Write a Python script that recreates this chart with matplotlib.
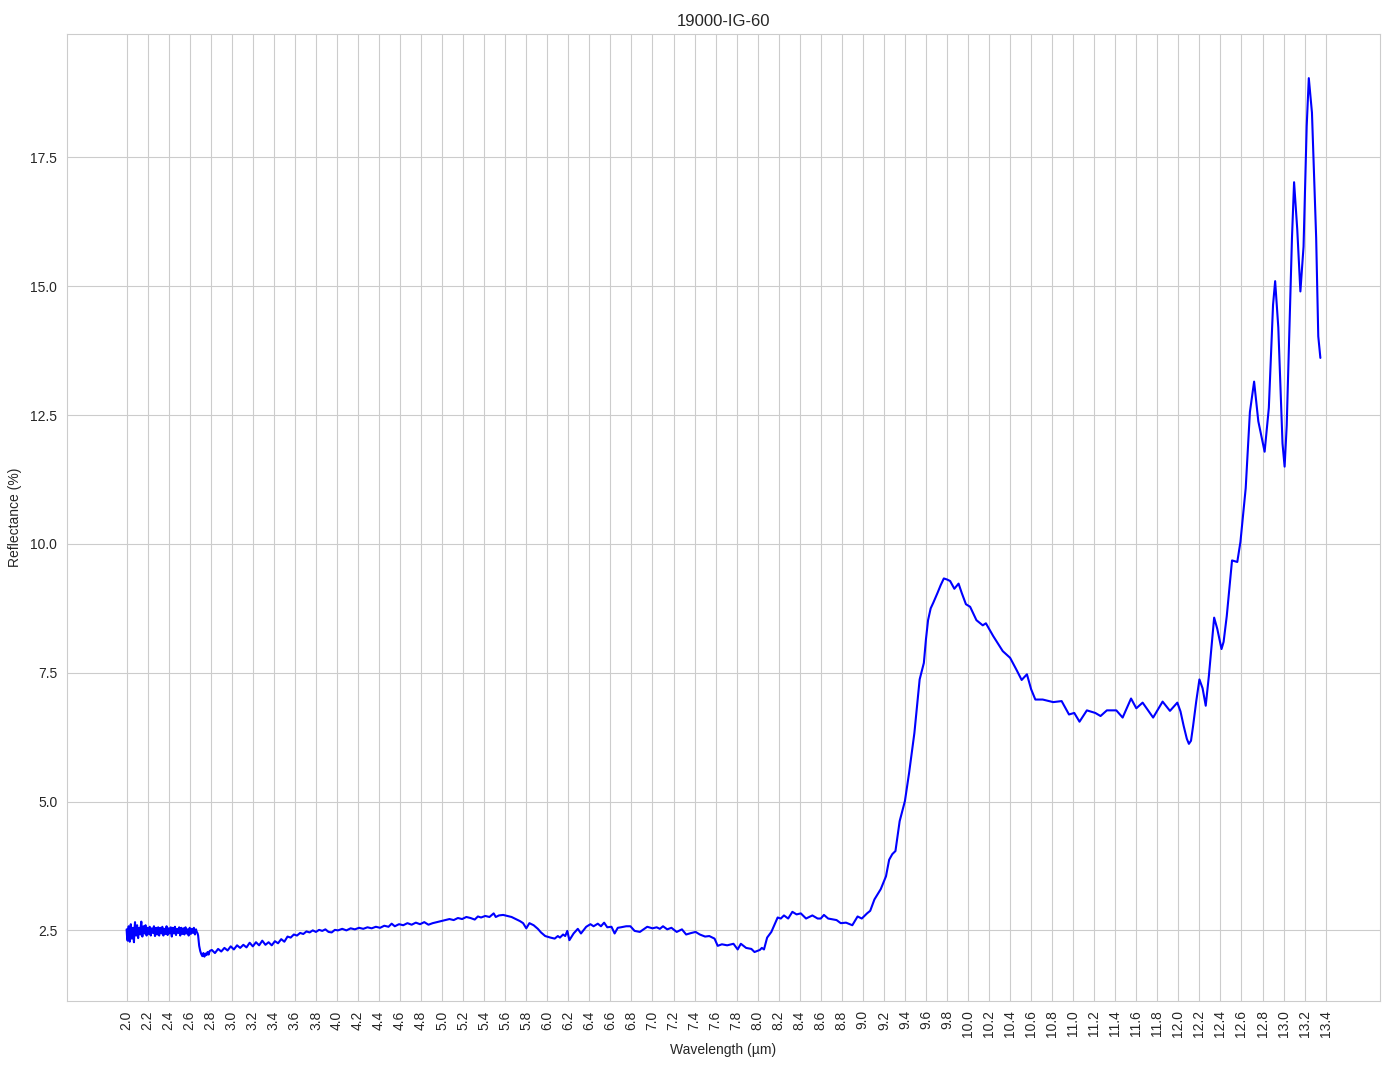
import numpy as np
import matplotlib.pyplot as plt
import seaborn as sns

# Dane (widmo odbicia)
# odcinek 1: 2.0 - 2.68 um (zaszumiony), krok pomiaru 0.005 um
wl_1 = np.round(np.arange(2.0, 2.6801, 0.005), 3).tolist()
refl_1 = [2.52, 2.36, 2.30, 2.49, 2.58, 2.40, 2.28, 2.47, 2.62, 2.44,
          2.34, 2.51, 2.55, 2.38, 2.27, 2.52, 2.66, 2.45, 2.40, 2.56,
          2.60, 2.43, 2.35, 2.50, 2.55, 2.46, 2.42, 2.58, 2.67, 2.47,
          2.38, 2.52, 2.58, 2.45, 2.44, 2.56, 2.60, 2.47, 2.40, 2.53,
          2.55, 2.46, 2.43, 2.52, 2.57, 2.44, 2.40, 2.50, 2.54, 2.47,
          2.45, 2.53, 2.58, 2.46, 2.39, 2.48, 2.55, 2.47, 2.42, 2.51,
          2.56, 2.45, 2.40, 2.52, 2.55, 2.47, 2.44, 2.53, 2.57, 2.46,
          2.40, 2.50, 2.53, 2.46, 2.43, 2.52, 2.58, 2.47, 2.41, 2.50,
          2.54, 2.47, 2.44, 2.53, 2.56, 2.45, 2.38, 2.49, 2.55, 2.48,
          2.44, 2.52, 2.57, 2.46, 2.41, 2.49, 2.53, 2.48, 2.45, 2.52,
          2.56, 2.46, 2.40, 2.50, 2.55, 2.47, 2.43, 2.51, 2.54, 2.46,
          2.42, 2.51, 2.56, 2.48, 2.44, 2.50, 2.52, 2.45, 2.40, 2.49,
          2.55, 2.47, 2.43, 2.50, 2.53, 2.48, 2.45, 2.52, 2.55, 2.47,
          2.42, 2.49, 2.52, 2.48, 2.46, 2.44, 2.40]

# odcinek 2: 2.69 - 6.0 um
wl_2 = [2.69, 2.70, 2.71, 2.72, 2.73, 2.74, 2.75, 2.76, 2.77, 2.78, 2.79,
        2.81, 2.84, 2.87, 2.90, 2.93, 2.96, 2.99, 3.02, 3.05, 3.08,
        3.11, 3.14, 3.17, 3.20, 3.23, 3.26, 3.29, 3.32, 3.35, 3.38,
        3.41, 3.44, 3.47, 3.50, 3.53, 3.56, 3.59, 3.62, 3.65, 3.68,
        3.71, 3.74, 3.77, 3.80, 3.83, 3.86, 3.89, 3.92, 3.95, 3.98,
        4.01, 4.05, 4.09, 4.13, 4.17, 4.21, 4.25, 4.29, 4.33, 4.37,
        4.41, 4.45, 4.49, 4.52, 4.55, 4.59, 4.63, 4.67, 4.71, 4.75,
        4.79, 4.83, 4.87, 4.91, 4.95, 4.99, 5.03, 5.07, 5.11, 5.15,
        5.19, 5.23, 5.27, 5.31, 5.34, 5.37, 5.41, 5.45, 5.49, 5.51,
        5.54, 5.58, 5.62, 5.66, 5.70, 5.74, 5.77, 5.80, 5.83, 5.87,
        5.91, 5.94, 5.98]
refl_2 = [2.20, 2.10, 2.04, 2.00, 2.06, 1.99, 2.05, 2.02, 2.08, 2.03, 2.10,
          2.12, 2.06, 2.14, 2.09, 2.16, 2.11, 2.19, 2.13, 2.21, 2.16,
          2.22, 2.17, 2.26, 2.19, 2.27, 2.21, 2.30, 2.22, 2.27, 2.21,
          2.29, 2.25, 2.33, 2.28, 2.38, 2.36, 2.42, 2.40, 2.45, 2.43,
          2.48, 2.46, 2.50, 2.47, 2.51, 2.49, 2.52, 2.47, 2.46, 2.51,
          2.50, 2.53, 2.50, 2.54, 2.52, 2.55, 2.53, 2.56, 2.54, 2.57,
          2.55, 2.59, 2.57, 2.63, 2.58, 2.62, 2.60, 2.64, 2.61, 2.65,
          2.62, 2.66, 2.61, 2.64, 2.66, 2.68, 2.70, 2.72, 2.70, 2.74,
          2.72, 2.76, 2.74, 2.71, 2.77, 2.75, 2.78, 2.76, 2.83, 2.76,
          2.79, 2.80, 2.78, 2.76, 2.72, 2.68, 2.64, 2.54, 2.64, 2.60,
          2.53, 2.46, 2.39]

# odcinek 3: 6.0 - 13.35 um
wl_3 = [6.03, 6.07, 6.10, 6.12, 6.15, 6.17, 6.19, 6.21, 6.25, 6.29,
        6.32, 6.37, 6.41, 6.44, 6.48, 6.51, 6.54, 6.57, 6.61, 6.64,
        6.67, 6.70, 6.75, 6.79, 6.83, 6.88, 6.95, 7.00, 7.04, 7.07,
        7.10, 7.14, 7.18, 7.23, 7.28, 7.32, 7.37, 7.41, 7.45, 7.50,
        7.54, 7.59, 7.62, 7.66, 7.71, 7.77, 7.81, 7.84, 7.89, 7.94,
        7.97, 8.02, 8.04, 8.06, 8.09, 8.13, 8.19, 8.22, 8.25, 8.29,
        8.33, 8.37, 8.41, 8.46, 8.52, 8.57, 8.60, 8.63, 8.67, 8.75,
        8.79, 8.84, 8.90, 8.95, 8.99, 9.04, 9.07, 9.11, 9.17, 9.22,
        9.25, 9.28, 9.31, 9.35, 9.40, 9.44, 9.49, 9.54, 9.58, 9.60,
        9.62, 9.645, 9.67, 9.71, 9.74, 9.77, 9.80, 9.83, 9.87, 9.91, 9.94,
        9.98, 10.02, 10.08, 10.14, 10.17, 10.24, 10.33, 10.40, 10.46, 10.51,
        10.56, 10.60, 10.64, 10.71, 10.81, 10.89, 10.96, 11.01, 11.06, 11.13,
        11.21, 11.26, 11.32, 11.41, 11.47, 11.55, 11.60, 11.66, 11.76, 11.85,
        11.92, 11.99, 12.02, 12.05, 12.08, 12.10, 12.12, 12.14, 12.17, 12.20,
        12.23, 12.26, 12.29, 12.34, 12.37, 12.41, 12.43, 12.46, 12.51, 12.56,
        12.59, 12.64, 12.68, 12.72, 12.76, 12.82, 12.86, 12.90, 12.92, 12.95,
        12.99, 13.01, 13.03, 13.08, 13.10, 13.13, 13.16, 13.19, 13.22, 13.24,
        13.27, 13.31, 13.33, 13.35]
refl_3 = [2.36, 2.34, 2.39, 2.36, 2.42, 2.39, 2.49, 2.31, 2.44, 2.53,
          2.44, 2.57, 2.62, 2.58, 2.63, 2.58, 2.65, 2.56, 2.57, 2.44,
          2.55, 2.56, 2.58, 2.58, 2.49, 2.47, 2.57, 2.54, 2.56, 2.53,
          2.58, 2.52, 2.55, 2.47, 2.52, 2.42, 2.45, 2.47, 2.42, 2.38,
          2.39, 2.34, 2.20, 2.23, 2.21, 2.24, 2.13, 2.24, 2.16, 2.14,
          2.08, 2.12, 2.16, 2.13, 2.36, 2.47, 2.75, 2.73, 2.79, 2.73,
          2.86, 2.81, 2.83, 2.73, 2.79, 2.73, 2.73, 2.80, 2.73, 2.70,
          2.64, 2.65, 2.60, 2.77, 2.73, 2.83, 2.88, 3.10, 3.30, 3.55,
          3.87, 3.98, 4.04, 4.62, 5.01, 5.56, 6.33, 7.37, 7.69, 8.15,
          8.52, 8.75, 8.86, 9.05, 9.20, 9.33, 9.31, 9.28, 9.13, 9.23, 9.05,
          8.83, 8.78, 8.52, 8.42, 8.46, 8.21, 7.92, 7.79, 7.56, 7.36,
          7.47, 7.18, 6.98, 6.98, 6.93, 6.95, 6.69, 6.72, 6.55, 6.77,
          6.72, 6.66, 6.77, 6.77, 6.63, 7.00, 6.81, 6.92, 6.63, 6.94,
          6.76, 6.92, 6.75, 6.47, 6.22, 6.12, 6.18, 6.47, 6.95, 7.37,
          7.20, 6.86, 7.44, 8.57, 8.35, 7.96, 8.10, 8.60, 9.68, 9.65,
          10.04, 11.08, 12.56, 13.15, 12.38, 11.79, 12.64, 14.64, 15.10, 14.20,
          11.95, 11.50, 12.30, 15.94, 17.02, 16.11, 14.90, 15.77, 18.11, 19.04,
          18.37, 15.94, 14.03, 13.61]

wavelength = np.array(wl_1 + wl_2 + wl_3)
reflectance = np.array(refl_1 + refl_2 + refl_3)

x_ticks = np.round(np.arange(2.0, 13.41, 0.2), 1)

sns.set_style("whitegrid")
plt.rcParams['font.family'] = ['Liberation Sans', 'DejaVu Sans']

fig = plt.figure(figsize=(13.94, 10.69), dpi=100)
plt.plot(wavelength, reflectance, color="blue", linewidth=1.5)

plt.xticks(x_ticks, [f"{t:.1f}" for t in x_ticks], rotation=90)
plt.xlabel("Wavelength (µm)")
plt.ylabel("Reflectance (%)", labelpad=6)
plt.title("19000-IG-60")

plt.subplots_adjust(left=0.048, right=0.990, top=0.968, bottom=0.064)
plt.savefig("out.png")
